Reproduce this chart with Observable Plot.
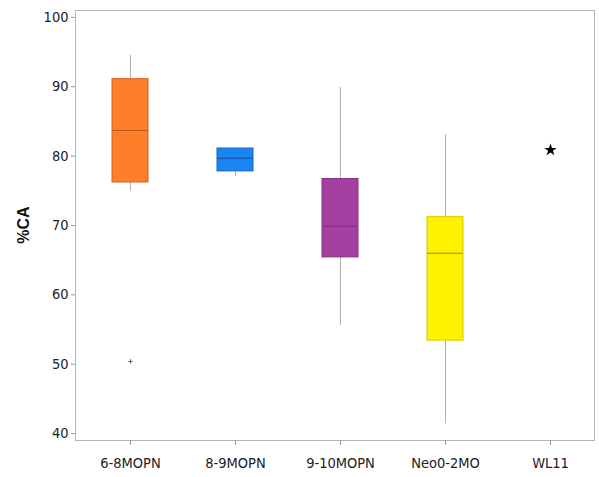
<!DOCTYPE html>
<html>
<head>
<meta charset="utf-8">
<script src="https://cdn.jsdelivr.net/npm/d3@7"></script>
<script src="https://cdn.jsdelivr.net/npm/@observablehq/plot@0.6"></script>
<style>
  html, body { margin: 0; padding: 0; background: #fff; }
  #chart { width: 599px; height: 477px; }
</style>
</head>
<body>
<div id="chart"></div>
<script>
const groups = ["6-8MOPN", "8-9MOPN", "9-10MOPN", "Neo0-2MO"];
const whiskerLow = [74.9, 77.1, 55.6, 41.4];
const q1 = [76.2, 77.8, 65.4, 53.4];
const median = [83.7, 79.7, 69.9, 66.0];
const q3 = [91.1, 81.1, 76.7, 71.2];
const whiskerHigh = [94.5, 81.1, 89.9, 83.1];
const boxColors = ["#fd7f2a", "#1a84f2", "#a4409f", "#fff200"];
const boxStrokes = ["#d8631a", "#1467c0", "#84307f", "#d8c800"];
const medianColors = ["#b75a1c", "#10509a", "#7a2a76", "#9c8f00"];

const allCategories = ["6-8MOPN", "8-9MOPN", "9-10MOPN", "Neo0-2MO", "WL11"];
const outlierGroup = ["6-8MOPN"];
const outlierValue = [50.4];
const singleGroup = ["WL11"];
const singleValue = [80.9];
const yTicks = [40, 50, 60, 70, 80, 90, 100];

const boxes = groups.map((g, i) => ({
  g, lo: whiskerLow[i], q1: q1[i], med: median[i], q3: q3[i], hi: whiskerHigh[i],
  fill: boxColors[i], stroke: boxStrokes[i], mc: medianColors[i]
}));
const outliers = outlierGroup.map((g, i) => ({g, v: outlierValue[i]}));
const singles = singleGroup.map((g, i) => ({g, v: singleValue[i]}));

const chart = Plot.plot({
  width: 599,
  height: 477,
  marginLeft: 75,
  marginRight: 5,
  marginTop: 10,
  marginBottom: 37,
  style: {fontFamily: "'DejaVu Sans Condensed', 'DejaVu Sans', sans-serif", fontSize: "14.5px", color: "#222", background: "#fff"},
  x: {domain: allCategories, paddingInner: 0.66, paddingOuter: 0.28, align: 0.58, label: null, tickSize: 5},
  y: {domain: [39, 101], ticks: yTicks, label: null, tickSize: 4},
  marks: [
    Plot.frame({stroke: "#b5b5b5"}),
    Plot.ruleX(boxes, {x: "g", y1: "lo", y2: "q1", stroke: "#b0b0b0", strokeWidth: 1}),
    Plot.ruleX(boxes, {x: "g", y1: "q3", y2: "hi", stroke: "#b0b0b0", strokeWidth: 1}),
    Plot.barY(boxes, {x: "g", y1: "q1", y2: "q3", fill: d => d.fill, stroke: d => d.stroke, strokeWidth: 1}),
    Plot.tickY(boxes, {x: "g", y: "med", stroke: d => d.mc, strokeWidth: 1}),
    Plot.dot(outliers, {x: "g", y: "v", symbol: "plus", r: 1.6, stroke: "#666", strokeWidth: 1}),
    Plot.dot(singles, {x: "g", y: "v", symbol: "star", r: 3.9, fill: "#000", stroke: "none"}),
    Plot.axisY({ticks: yTicks, tickSize: 4, stroke: "#999", tickPadding: 3, fontSize: 14.5, fill: "#222"}),
    Plot.axisX({tickSize: 5, stroke: "#999", tickPadding: 12, fontSize: 14.5, fill: "#222"})
  ]
});

document.getElementById("chart").appendChild(chart);

const svg = d3.select(chart);
svg.append("text")
  .attr("transform", "translate(29,225) rotate(-90)")
  .attr("text-anchor", "middle")
  .attr("font-family", "Arial, 'Liberation Sans', sans-serif")
  .attr("font-weight", "bold")
  .attr("font-size", 16)
  .attr("fill", "#111")
  .text("%CA");
</script>
</body>
</html>
